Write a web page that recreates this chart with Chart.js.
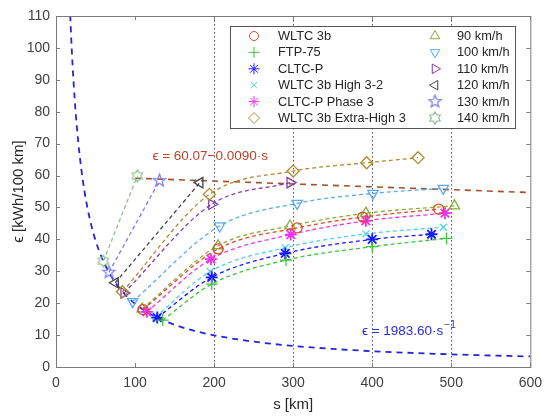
<!DOCTYPE html>
<html>
<head>
<meta charset="utf-8">
<script src="https://cdn.jsdelivr.net/npm/chart.js@4.4.1/dist/chart.umd.min.js"></script>
<style>
  html, body { margin: 0; padding: 0; background: #fff; }
  #wrap { width: 550px; height: 419px; }
</style>
</head>
<body>
<div id="wrap"><canvas id="energyChart" width="550" height="419"></canvas></div>
<script>
// ======= Data =======
const xTicks = [0, 100, 200, 300, 400, 500, 600];
const yTicks = [0, 10, 20, 30, 40, 50, 60, 70, 80, 90, 100, 110];

// driving cycles: range s [km] and consumption eps [kWh/100 km]
const wltcS = [110, 205, 305, 388, 484];
const wltcE = [18.0, 37.0, 43.6, 47.0, 49.5];
const ftpS = [135, 197, 291, 400, 494];
const ftpE = [14.7, 26.0, 33.5, 37.7, 40.3];
const cltcS = [128, 197, 290, 400, 475];
const cltcE = [15.5, 28.1, 35.6, 40.0, 41.6];
const wltcHighS = [126, 195, 290, 392, 490];
const wltcHighE = [15.7, 29.9, 37.4, 41.7, 43.8];
const cltcP3S = [115, 196, 297, 392, 492];
const cltcP3E = [17.3, 33.8, 41.5, 45.8, 48.2];
const wltcXHighS = [84, 194, 300, 393, 458];
const wltcXHighE = [23.6, 54.1, 61.4, 64.0, 65.6];

// constant speeds
const v90S = [109, 205, 296, 392, 504];
const v90E = [18.2, 38.0, 44.2, 48.2, 50.5];
const v100S = [97, 207, 305, 401, 490];
const v100E = [20.5, 44.2, 51.3, 54.4, 56.0];
const v110S = [86, 197, 296];
const v110E = [23.2, 51.0, 57.8];
const v120S = [75, 182];
const v120E = [26.4, 57.8];
const v130S = [67, 131];
const v130E = [29.7, 58.4];
const v140S = [60, 103];
const v140E = [33.2, 59.9];

// fitted curves printed on the chart
const hyperK = 1983.60;          // eps = 1983.60 * s^-1
const hyperS = [18, 20, 22, 25, 28, 32, 36, 40, 45, 50, 55, 60, 70, 80, 90, 100, 115, 130, 150, 175, 200, 250, 300, 350, 400, 450, 500, 550, 600];
const linA = 60.07;              // eps = 60.07 - 0.0090 * s
const linB = 0.0090;
const linS = [100, 600];

const FONT = "'Liberation Sans', Arial, Helvetica, sans-serif";

// small outlined star images for the pentagram / hexagram markers
function starMarker(points, inner, color, r) {
  const size = Math.ceil(r * 2 + 4);
  const c = document.createElement("canvas");
  c.width = size; c.height = size;
  const g = c.getContext("2d");
  g.strokeStyle = color;
  g.lineWidth = 1.2;
  g.beginPath();
  for (let i = 0; i < points * 2; i++) {
    const rad = i % 2 === 0 ? r : r * inner;
    const a = -Math.PI / 2 + i * Math.PI / points;
    const px = size / 2 + rad * Math.cos(a);
    const py = size / 2 + rad * Math.sin(a);
    if (i === 0) g.moveTo(px, py); else g.lineTo(px, py);
  }
  g.closePath();
  g.stroke();
  return c;
}

const pentagram = starMarker(5, 0.42, "#7b7bf0", 6.5);
const hexagram = starMarker(6, 0.6, "#8fbf8f", 6);

function pts(xs, ys) {
  return xs.map((x, i) => ({ x: x, y: ys[i] }));
}

function series(label, xs, ys, color, style, extra) {
  return Object.assign({
    label: label,
    data: pts(xs, ys),
    showLine: true,
    borderColor: color,
    backgroundColor: "rgba(0,0,0,0)",
    pointBorderColor: color,
    pointBackgroundColor: "rgba(0,0,0,0)",
    pointStyle: style,
    pointRadius: 5,
    pointBorderWidth: 1.3,
    borderWidth: 1.3,
    borderDash: [4, 3],
    cubicInterpolationMode: "monotone",
    order: 1
  }, extra || {});
}

const datasets = [
  series("WLTC 3b", wltcS, wltcE, "#dd4a2a", "circle"),
  series("FTP-75", ftpS, ftpE, "#3cc43c", "cross", { pointRadius: 6 }),
  series("CLTC-P", cltcS, cltcE, "#1a1aff", "star", { pointRadius: 6, pointBorderWidth: 1.8 }),
  series("WLTC 3b High 3-2", wltcHighS, wltcHighE, "#55d0ec", "crossRot"),
  series("CLTC-P Phase 3", cltcP3S, cltcP3E, "#ee33ee", "star", { pointRadius: 6, pointBorderWidth: 1.8 }),
  series("WLTC 3b Extra-High 3", wltcXHighS, wltcXHighE, "#b08a2e", "rectRot", { pointRadius: 6 }),
  series("90 km/h", v90S, v90E, "#8aaa3a", "triangle", { pointRadius: 6 }),
  series("100 km/h", v100S, v100E, "#5aaaf0", "triangle", { pointRadius: 6, rotation: 180 }),
  series("110 km/h", v110S, v110E, "#8a3aa8", "triangle", { pointRadius: 6, rotation: 90 }),
  series("120 km/h", v120S, v120E, "#444444", "triangle", { pointRadius: 6, rotation: 270 }),
  series("130 km/h", v130S, v130E, "#7b7bf0", pentagram),
  series("140 km/h", v140S, v140E, "#8fbf8f", hexagram),
  {
    label: "hyper",
    data: hyperS.map(s => ({ x: s, y: hyperK / s })),
    showLine: true,
    borderColor: "#2525d8",
    borderWidth: 1.8,
    borderDash: [6, 5],
    pointRadius: 0,
    cubicInterpolationMode: "monotone",
    order: 5
  },
  {
    label: "linear",
    data: linS.map(s => ({ x: s, y: linA - linB * s })),
    showLine: true,
    borderColor: "#a0522d",
    borderWidth: 1.6,
    borderDash: [6, 5],
    pointRadius: 0,
    order: 5
  }
];

// ======= Plugins: frame with inner ticks, boxed legend, fit labels =======
const framePlugin = {
  id: "frame",
  afterDatasetsDraw(chart) {
    const { ctx, chartArea: a, scales } = chart;
    ctx.save();
    ctx.strokeStyle = "#7a7a7a";
    ctx.lineWidth = 1;
    ctx.strokeRect(a.left + 0.5, a.top + 0.5, a.right - a.left, a.bottom - a.top);
    ctx.beginPath();
    yTicks.forEach(v => {
      const y = Math.round(scales.y.getPixelForValue(v)) + 0.5;
      ctx.moveTo(a.left, y); ctx.lineTo(a.left + 4, y);
      ctx.moveTo(a.right, y); ctx.lineTo(a.right - 4, y);
    });
    xTicks.forEach(v => {
      const x = Math.round(scales.x.getPixelForValue(v)) + 0.5;
      ctx.moveTo(x, a.bottom); ctx.lineTo(x, a.bottom - 4);
      ctx.moveTo(x, a.top); ctx.lineTo(x, a.top + 4);
    });
    ctx.stroke();
    ctx.restore();
  }
};

const legendPlugin = {
  id: "boxLegend",
  afterDatasetsDraw(chart) {
    const ctx = chart.ctx;
    const x0 = 230, y0 = 26, w = 285, h = 102;
    ctx.save();
    ctx.fillStyle = "#fff";
    ctx.fillRect(x0, y0, w, h);
    ctx.strokeStyle = "#555";
    ctx.lineWidth = 1;
    ctx.strokeRect(x0 + 0.5, y0 + 0.5, w, h);
    ctx.font = "12.8px " + FONT;
    ctx.textBaseline = "middle";
    ctx.textAlign = "left";
    for (let k = 0; k < 12; k++) {
      const ds = chart.data.datasets[k];
      const col = Math.floor(k / 6), row = k % 6;
      const mx = col === 0 ? 254 : 435;
      const tx = col === 0 ? 278 : 457;
      const y = y0 + 10 + row * 16.4;
      ctx.strokeStyle = ds.pointBorderColor;
      ctx.fillStyle = "rgba(0,0,0,0)";
      Chart.helpers.drawPoint(ctx, {
        pointStyle: ds.pointStyle,
        rotation: ds.rotation || 0,
        radius: ds.pointRadius - 0.5,
        borderWidth: ds.pointBorderWidth
      }, mx, y);
      ctx.fillStyle = "#262626";
      ctx.fillText(ds.label, tx, y + 0.5);
    }
    ctx.restore();
  }
};

const labelPlugin = {
  id: "fitLabels",
  afterDatasetsDraw(chart) {
    const { ctx, scales } = chart;
    ctx.save();
    ctx.textBaseline = "alphabetic";
    ctx.textAlign = "left";
    ctx.font = "13.5px " + FONT;
    ctx.fillStyle = "#c0432a";
    ctx.fillText("\u03F5 = 60.07\u22120.0090\u00B7s", scales.x.getPixelForValue(122), scales.y.getPixelForValue(64.8));
    ctx.fillStyle = "#2b2bd6";
    const bx = scales.x.getPixelForValue(387), by = scales.y.getPixelForValue(10.0);
    const main = "\u03F5 = 1983.60\u00B7s";
    ctx.fillText(main, bx, by);
    const mw = ctx.measureText(main).width;
    ctx.font = "10px " + FONT;
    ctx.fillText("\u22121", bx + mw + 1, by - 7);
    ctx.restore();
  }
};

// ======= Chart =======
const ctx = document.getElementById("energyChart").getContext("2d");
const energyChart = new Chart(ctx, {
  type: "scatter",
  data: { datasets: datasets },
  options: {
    responsive: false,
    animation: false,
    layout: { padding: { top: 16, right: 19, left: 0, bottom: 0 } },
    plugins: {
      legend: { display: false },
      tooltip: { enabled: false }
    },
    scales: {
      x: {
        type: "linear",
        min: 0,
        max: 600,
        afterBuildTicks: s => { s.ticks = xTicks.map(v => ({ value: v })); },
        afterFit: s => { s.height = 52; },
        ticks: { color: "#404040", font: { family: FONT, size: 14 }, padding: 8, maxRotation: 0, autoSkip: false },
        grid: {
          drawTicks: false,
          lineWidth: 1,
          color: c => (c.tick && c.tick.value >= 200 && c.tick.value <= 500) ? "#555" : "rgba(0,0,0,0)"
        },
        border: { display: false, dash: [1.5, 2.5] },
        title: { display: true, text: "s [km]", color: "#262626", font: { family: FONT, size: 15 }, padding: { top: 0, bottom: 5 } }
      },
      y: {
        type: "linear",
        min: 0,
        max: 110,
        afterBuildTicks: s => { s.ticks = yTicks.map(v => ({ value: v })); },
        afterFit: s => { s.width = 56; },
        ticks: { color: "#404040", font: { family: FONT, size: 14 }, padding: 6, autoSkip: false },
        grid: { display: false, drawTicks: false },
        border: { display: false },
        title: { display: true, text: "\u03F5 [kWh/100 km]", color: "#262626", font: { family: FONT, size: 15 }, padding: { top: 10, bottom: 0 } }
      }
    }
  },
  plugins: [framePlugin, legendPlugin, labelPlugin]
});
</script>
</body>
</html>
